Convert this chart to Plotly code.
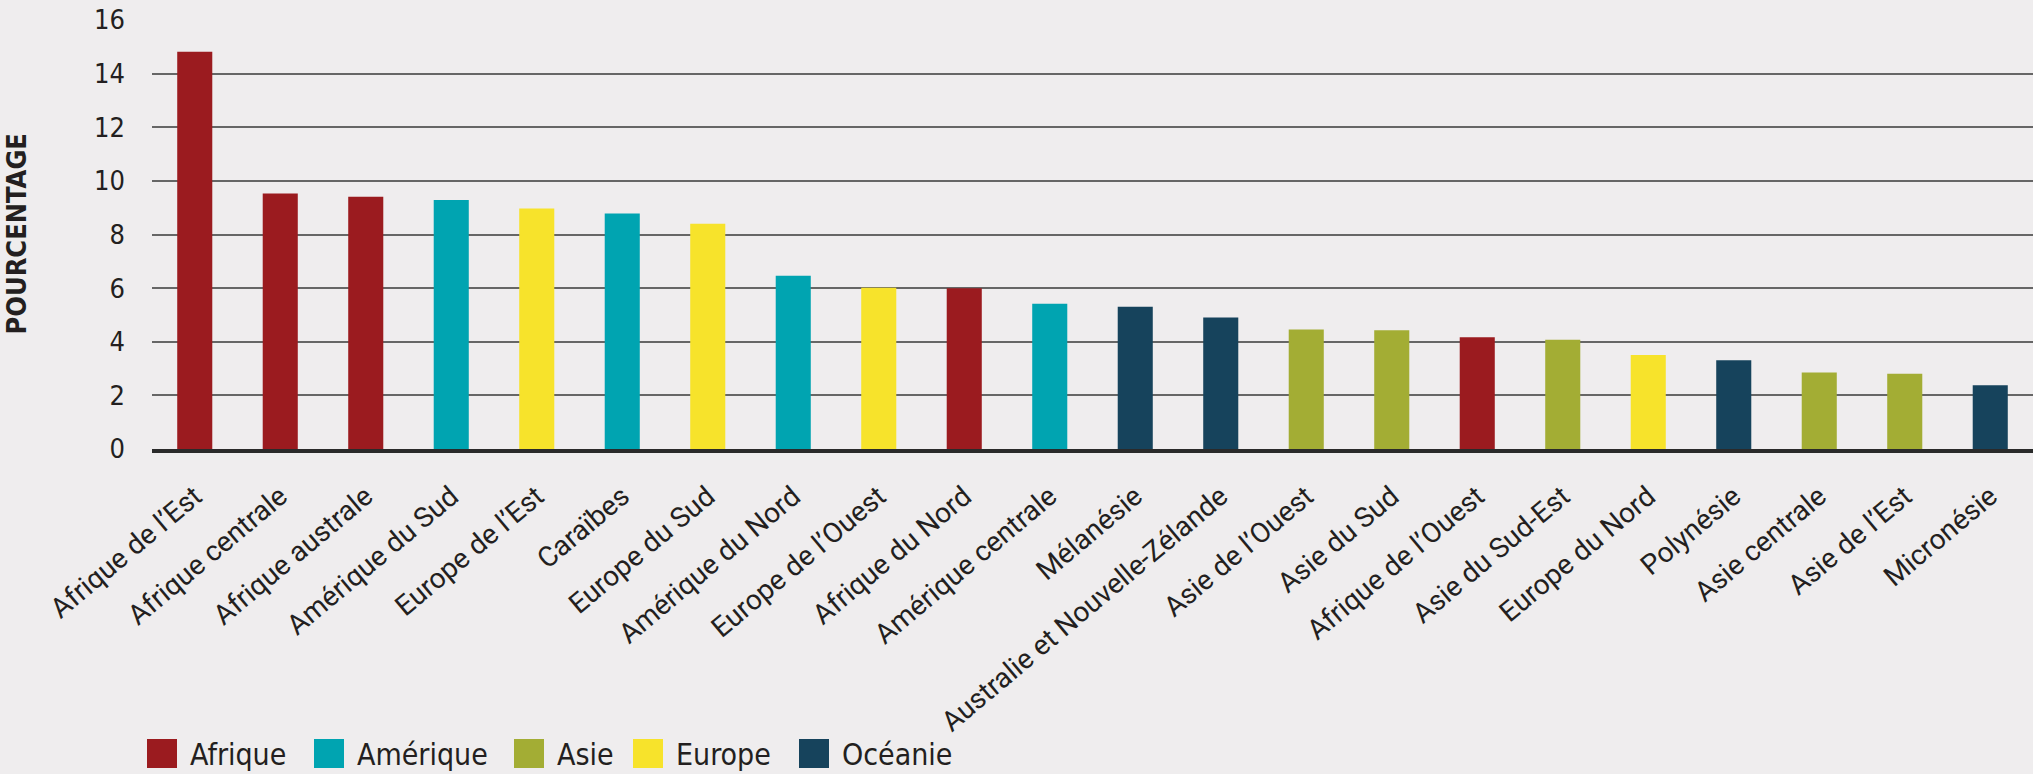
import plotly.graph_objects as go

# ---- data ----
categories = [
    "Afrique de l’Est", "Afrique centrale", "Afrique australe", "Amérique du Sud",
    "Europe de l’Est", "Caraïbes", "Europe du Sud", "Amérique du Nord",
    "Europe de l’Ouest", "Afrique du Nord", "Amérique centrale", "Mélanésie",
    "Australie et Nouvelle-Zélande", "Asie de l’Ouest", "Asie du Sud",
    "Afrique de l’Ouest", "Asie du Sud-Est", "Europe du Nord", "Polynésie",
    "Asie centrale", "Asie de l’Est", "Micronésie",
]
values = [14.82, 9.53, 9.41, 9.29, 8.97, 8.78, 8.40, 6.46, 6.01, 6.00, 5.42,
          5.31, 4.90, 4.46, 4.43, 4.17, 4.07, 3.51, 3.31, 2.85, 2.81, 2.38]
regions = ["Afrique", "Afrique", "Afrique", "Amérique", "Europe", "Amérique",
           "Europe", "Amérique", "Europe", "Afrique", "Amérique", "Océanie",
           "Océanie", "Asie", "Asie", "Afrique", "Asie", "Europe", "Océanie",
           "Asie", "Asie", "Océanie"]
legend_names = ["Afrique", "Amérique", "Asie", "Europe", "Océanie"]
region_colors = {
    "Afrique": "#9b1b1f",
    "Amérique": "#00a4b1",
    "Asie": "#a3ad34",
    "Europe": "#f7e32b",
    "Océanie": "#16435c",
}
y_ticks = [0, 2, 4, 6, 8, 10, 12, 14, 16]

# ---- layout constants (pixels) ----
W, H = 2033, 774
L, R, T, B = 152, 0, 20, 325
PW, PH = W - L - R, H - T - B
BG = "#efedee"
TXT = "#231f20"
NARROW = "DejaVu Sans Condensed, Liberation Sans Narrow, Roboto, sans-serif"
LABEL = "Roboto, DejaVu Sans, sans-serif"


def px_x(x):
    return (x - L) / PW


def px_y(y):
    return (H - B - y) / PH


fig = go.Figure()
fig.add_trace(go.Bar(
    x=categories,
    y=values,
    marker=dict(color=[region_colors[r] for r in regions], line=dict(width=0)),
    width=0.41,
    showlegend=False,
    hoverinfo="x+y",
))

# manual legend (large squares like the reference)
sq_left = [147, 314, 514, 633, 799]
shapes = []
annotations = []
for name, x0 in zip(legend_names, sq_left):
    shapes.append(dict(
        type="rect", xref="paper", yref="paper",
        x0=px_x(x0), x1=px_x(x0 + 30), y0=px_y(768), y1=px_y(739),
        fillcolor=region_colors[name], line=dict(width=0),
    ))
    annotations.append(dict(
        text=name, xref="paper", yref="paper",
        x=px_x(x0 + 41), y=px_y(754), xanchor="left", yanchor="middle",
        showarrow=False, font=dict(family=NARROW, size=30, color=TXT),
    ))

annotations.append(dict(
    text="<b>POURCENTAGE</b>", xref="paper", yref="paper",
    x=px_x(16), y=0.5, xanchor="center", yanchor="middle", textangle=-90,
    showarrow=False, font=dict(family=NARROW, size=27, color=TXT),
))

fig.update_layout(
    width=W, height=H,
    margin=dict(l=L, r=R, t=T, b=B, pad=0),
    paper_bgcolor=BG, plot_bgcolor=BG,
    shapes=shapes, annotations=annotations,
    showlegend=False,
    xaxis=dict(
        type="category",
        range=[-0.5, len(categories) - 0.5],
        tickangle=-40,
        tickfont=dict(family=LABEL, size=28, color=TXT),
        showgrid=False,
        showline=True, linecolor="#2a2a2a", linewidth=4,
        ticks="", ticklabelstandoff=16,
        automargin=False,
    ),
    yaxis=dict(
        range=[0, 16],
        tickvals=y_ticks,
        ticktext=[str(v) for v in y_ticks],
        tickfont=dict(family=NARROW, size=27, color=TXT),
        showgrid=True, gridcolor="#666666", gridwidth=1.5,
        zeroline=False,
        showline=False,
        ticks="", ticklabelstandoff=26,
        automargin=False,
    ),
)

fig.write_html(
    "out.html",
    config={"displayModeBar": False},
    post_script="document.body.style.margin='0';document.body.style.background='#efedee';",
)
